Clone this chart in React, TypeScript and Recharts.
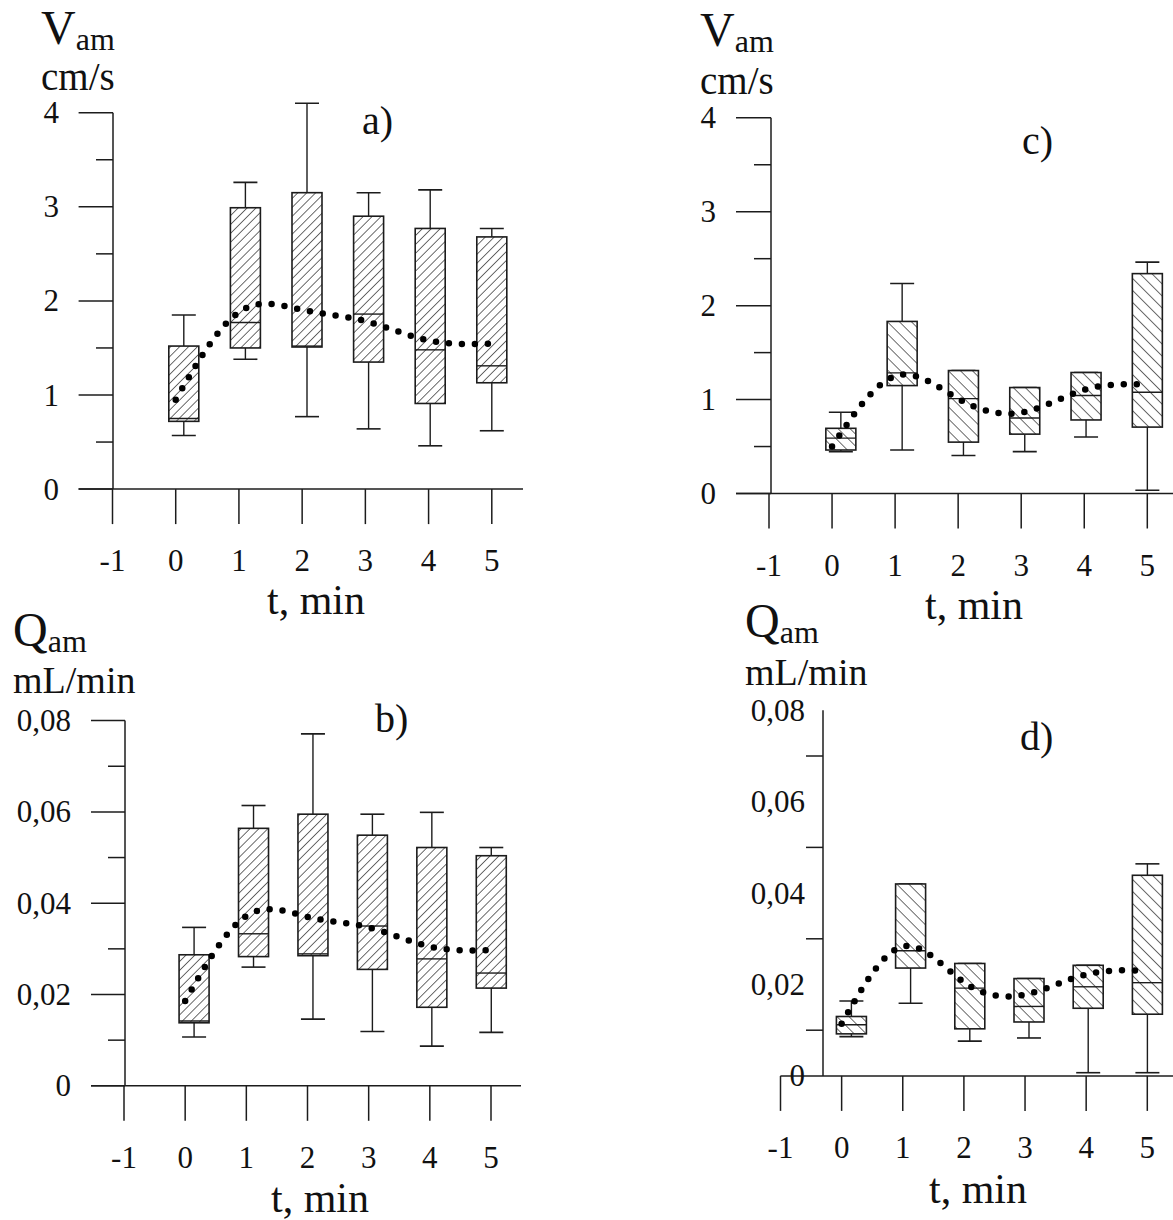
import React from 'react';
import { ComposedChart, Bar, Line, XAxis, YAxis, ReferenceLine } from 'recharts';

// ---------- shared axis data ----------
const times = [0, 1, 2, 3, 4, 5];
const timeTicks = [-1, 0, 1, 2, 3, 4, 5];
const timeTickLabels = ['-1', '0', '1', '2', '3', '4', '5'];

const vMajorTicks = [0, 1, 2, 3, 4];
const vMinorTicks = [0.5, 1.5, 2.5, 3.5];
const vTickLabels = ['0', '1', '2', '3', '4'];

const qMajorTicks = [0, 0.02, 0.04, 0.06, 0.08];
const qMinorTicks = [0.01, 0.03, 0.05, 0.07];
const qTickLabels = ['0', '0,02', '0,04', '0,06', '0,08'];

// ---------- panel a) V_am ----------
const aMin = [0.57, 1.38, 0.77, 0.64, 0.46, 0.62];
const aQ1 = [0.72, 1.5, 1.51, 1.35, 0.91, 1.13];
const aMed = [0.75, 1.77, 1.52, 1.86, 1.48, 1.31];
const aQ3 = [1.52, 2.99, 3.15, 2.9, 2.77, 2.68];
const aMax = [1.85, 3.26, 4.1, 3.15, 3.18, 2.77];
const aMean = [0.95, 1.88, 1.905, 1.785, 1.58, 1.545];

// ---------- panel b) Q_am ----------
const bMin = [0.0107, 0.026, 0.0146, 0.0119, 0.0087, 0.0117];
const bQ1 = [0.0138, 0.0283, 0.0285, 0.0255, 0.0172, 0.0214];
const bMed = [0.0142, 0.0333, 0.0289, 0.035, 0.0278, 0.0247];
const bQ3 = [0.0287, 0.0564, 0.0595, 0.0549, 0.0522, 0.0504];
const bMax = [0.0347, 0.0614, 0.0771, 0.0595, 0.0599, 0.0522];
const bMean = [0.0186, 0.0372, 0.037, 0.0347, 0.0305, 0.0297];

// ---------- panel c) V_am ----------
const cMin = [0.445, 0.463, 0.404, 0.446, 0.602, 0.034];
const cQ1 = [0.463, 1.149, 0.547, 0.632, 0.783, 0.707];
const cMed = [0.59, 1.284, 1.01, 0.804, 1.044, 1.078];
const cQ3 = [0.694, 1.832, 1.309, 1.128, 1.288, 2.341];
const cMax = [0.865, 2.236, 1.309, 1.128, 1.288, 2.463];
const cMean = [0.5, 1.25, 1.01, 0.86, 1.105, 1.16];

// ---------- panel d) Q_am ----------
const dMin = [0.0086, 0.0159, 0.0076, 0.0083, 0.0007, 0.0007];
const dQ1 = [0.0092, 0.0236, 0.0103, 0.0118, 0.0148, 0.0135];
const dMed = [0.0112, 0.0274, 0.0192, 0.0152, 0.0195, 0.0204];
const dQ3 = [0.013, 0.042, 0.0246, 0.0213, 0.0242, 0.0439];
const dMax = [0.0164, 0.042, 0.0246, 0.0213, 0.0242, 0.0464];
const dMean = [0.0114, 0.0283, 0.0205, 0.0178, 0.0222, 0.023];

const W = 1173;
const H = 1220;
const FONT = '"Liberation Serif", "Times New Roman", Times, serif';
const INK = '#1c1c1c';

function rows(mn: number[], q1: number[], med: number[], q3: number[], mx: number[], mean: number[]) {
  return times.map((t, i) => ({ t, min: mn[i], q1: q1[i], med: med[i], q3: q3[i], max: mx[i], mean: mean[i] }));
}

const dataA = rows(aMin, aQ1, aMed, aQ3, aMax, aMean);
const dataB = rows(bMin, bQ1, bMed, bQ3, bMax, bMean);
const dataC = rows(cMin, cQ1, cMed, cQ3, cMax, cMean);
const dataD = rows(dMin, dQ1, dMed, dQ3, dMax, dMean);

function BoxShape(props: any) {
  const { x, y, width, height, payload, hatch } = props;
  if (x == null || y == null || !payload) return null;
  const top = Math.min(y, y + height);
  const bottom = Math.max(y, y + height);
  const span = payload.max - payload.min;
  const px = (v: number) => bottom - ((bottom - top) * (v - payload.min)) / span;
  const cx = x + width / 2;
  const capW = 24;
  const yMax = px(payload.max);
  const yMin = px(payload.min);
  const yQ3 = px(payload.q3);
  const yQ1 = px(payload.q1);
  const yMed = px(payload.med);
  return (
    <g>
      <line x1={cx} x2={cx} y1={yMax} y2={yQ3} stroke={INK} strokeWidth={1.4} />
      <line x1={cx} x2={cx} y1={yQ1} y2={yMin} stroke={INK} strokeWidth={1.4} />
      <line x1={cx - capW / 2} x2={cx + capW / 2} y1={yMax} y2={yMax} stroke={INK} strokeWidth={1.6} />
      <line x1={cx - capW / 2} x2={cx + capW / 2} y1={yMin} y2={yMin} stroke={INK} strokeWidth={1.6} />
      <rect x={x} y={yQ3} width={width} height={Math.max(0, yQ1 - yQ3)} fill="#fff" stroke="none" />
      <rect x={x} y={yQ3} width={width} height={Math.max(0, yQ1 - yQ3)} fill={`url(#${hatch})`} stroke={INK} strokeWidth={1.6} />
      <line x1={x} x2={x + width} y1={yMed} y2={yMed} stroke={INK} strokeWidth={1.4} />
    </g>
  );
}

type Cfg = {
  plotLeft: number;
  plotRight: number;
  topTickPx: number;
  plotBottom: number;
  tickM1: number;
  tick5: number;
  box0: number;
  box5: number;
  yAxisPx: number;
  labelRight: number;
  showMajor: boolean;
  hatch: string;
};

function Panel({ cfg, data, yMax, majors, minors, labels }: { cfg: Cfg; data: any[]; yMax: number; majors: number[]; minors: number[]; labels: string[] }) {
  const YW = 60;
  const XH = 40;
  // leave some headroom above the top tick so long whiskers are not cut
  const yTop = yMax * 1.06;
  const pxPerUnit = (cfg.plotBottom - cfg.topTickPx) / yMax;
  const plotTop = cfg.plotBottom - yTop * pxPerUnit;
  const k = (cfg.tick5 - cfg.tickM1) / 6;
  const dom: [number, number] = [-1 + (cfg.plotLeft - cfg.tickM1) / k, -1 + (cfg.plotRight - cfg.tickM1) / k];
  const kb = (cfg.box5 - cfg.box0) / 5;
  const bdom: [number, number] = [(cfg.plotLeft - cfg.box0) / kb, (cfg.plotRight - cfg.box0) / kb];
  const yAxisAt = -1 + (cfg.yAxisPx - cfg.tickM1) / k;
  const allTicks = [...majors, ...minors].sort((p, q) => p - q);

  const xTick = (p: any) => {
    const v = p.payload.value;
    const idx = timeTicks.indexOf(v);
    return (
      <g>
        <line x1={p.x} x2={p.x} y1={cfg.plotBottom} y2={cfg.plotBottom + 35} stroke={INK} strokeWidth={1.5} />
        <text x={p.x} y={cfg.plotBottom + 82} textAnchor="middle" fontFamily={FONT} fontSize={31} fill="#111">
          {idx >= 0 ? timeTickLabels[idx] : ''}
        </text>
      </g>
    );
  };

  const yTick = (p: any) => {
    const v = p.payload.value;
    const idx = majors.findIndex((m) => Math.abs(m - v) < 1e-9);
    const isMajor = idx >= 0;
    const len = isMajor ? cfg.yAxisPx - cfg.plotLeft : 17;
    return (
      <g>
        {(!isMajor || cfg.showMajor) && (
          <line x1={cfg.yAxisPx - len} x2={cfg.yAxisPx} y1={p.y} y2={p.y} stroke={INK} strokeWidth={1.5} />
        )}
        {isMajor && (
          <text x={cfg.labelRight} y={p.y} dy="0.34em" textAnchor="end" fontFamily={FONT} fontSize={31} fill="#111">
            {labels[idx]}
          </text>
        )}
      </g>
    );
  };

  return (
    <div style={{ position: 'absolute', left: 0, top: 0, width: W, height: H }}>
      <ComposedChart
        width={W}
        height={H}
        data={data}
        margin={{ top: plotTop, left: cfg.plotLeft - YW, right: W - cfg.plotRight, bottom: H - cfg.plotBottom - XH }}
      >
        <XAxis
          xAxisId="t"
          dataKey="t"
          type="number"
          domain={dom}
          ticks={timeTicks}
          interval={0}
          allowDataOverflow
          height={XH}
          tickLine={false}
          axisLine={{ stroke: INK, strokeWidth: 1.5 }}
          tick={xTick}
        />
        <XAxis xAxisId="box" dataKey="t" type="number" domain={bdom} allowDataOverflow hide height={0} />
        <YAxis
          type="number"
          domain={[0, yTop]}
          ticks={allTicks}
          interval={0}
          width={YW}
          axisLine={false}
          tickLine={false}
          tickSize={0}
          tickMargin={0}
          tick={yTick}
          allowDataOverflow
        />
        <ReferenceLine
          xAxisId="t"
          segment={[
            { x: yAxisAt, y: 0 },
            { x: yAxisAt, y: yMax },
          ]}
          stroke={INK}
          strokeWidth={1.5}
          ifOverflow="visible"
        />
        <Bar
          xAxisId="box"
          dataKey={(d: any) => [d.min, d.max]}
          barSize={30}
          isAnimationActive={false}
          shape={(p: any) => <BoxShape {...p} hatch={cfg.hatch} />}
        />
        <Line
          xAxisId="t"
          dataKey="mean"
          type="natural"
          stroke="#000"
          strokeWidth={6.5}
          strokeDasharray="0 13"
          strokeLinecap="round"
          dot={false}
          activeDot={false}
          isAnimationActive={false}
        />
      </ComposedChart>
    </div>
  );
}

const cfgA: Cfg = { plotLeft: 78.6, plotRight: 523, topTickPx: 112.7, plotBottom: 489.1, tickM1: 112.5, tick5: 491.8, box0: 183.6, box5: 491.6, yAxisPx: 113, labelRight: 59, showMajor: true, hatch: 'hatchUp' };
const cfgB: Cfg = { plotLeft: 91, plotRight: 521, topTickPx: 720.6, plotBottom: 1085.8, tickM1: 124, tick5: 491, box0: 193.8, box5: 491, yAxisPx: 125, labelRight: 71, showMajor: true, hatch: 'hatchUp' };
const cfgC: Cfg = { plotLeft: 736, plotRight: 1173, topTickPx: 117.8, plotBottom: 493.5, tickM1: 769, tick5: 1147.3, box0: 840.5, box5: 1147, yAxisPx: 771, labelRight: 716, showMajor: true, hatch: 'hatchDown' };
const cfgD: Cfg = { plotLeft: 780.5, plotRight: 1173, topTickPx: 710.3, plotBottom: 1075.9, tickM1: 780.5, tick5: 1147.3, box0: 851, box5: 1147, yAxisPx: 823, labelRight: 805, showMajor: false, hatch: 'hatchDown' };

function Header({ x, y, big, sub, unit, unitY, unitSize }: { x: number; y: number; big: string; sub: string; unit: string; unitY: number; unitSize: number }) {
  return (
    <g fontFamily={FONT} fill="#111">
      <text x={x} y={y} fontSize={48}>
        {big}
        <tspan fontSize={32} dy={6}>{sub}</tspan>
      </text>
      <text x={x} y={unitY} fontSize={unitSize}>{unit}</text>
    </g>
  );
}

export default function App() {
  return (
    <div style={{ position: 'absolute', left: 0, top: 0, width: W, height: H, overflow: 'hidden', background: '#fff' }}>
      <svg width={0} height={0} style={{ position: 'absolute' }}>
        <defs>
          <pattern id="hatchUp" width={6.3} height={6.3} patternUnits="userSpaceOnUse" patternTransform="rotate(45)">
            <line x1={0} y1={0} x2={0} y2={6.3} stroke={INK} strokeWidth={1.3} />
          </pattern>
          <pattern id="hatchDown" width={8.5} height={8.5} patternUnits="userSpaceOnUse" patternTransform="rotate(-45)">
            <line x1={0} y1={0} x2={0} y2={8.5} stroke={INK} strokeWidth={1.3} />
          </pattern>
        </defs>
      </svg>
      <Panel cfg={cfgA} data={dataA} yMax={4} majors={vMajorTicks} minors={vMinorTicks} labels={vTickLabels} />
      <Panel cfg={cfgB} data={dataB} yMax={0.08} majors={qMajorTicks} minors={qMinorTicks} labels={qTickLabels} />
      <Panel cfg={cfgC} data={dataC} yMax={4} majors={vMajorTicks} minors={vMinorTicks} labels={vTickLabels} />
      <Panel cfg={cfgD} data={dataD} yMax={0.08} majors={qMajorTicks} minors={qMinorTicks} labels={qTickLabels} />
      <svg width={W} height={H} style={{ position: 'absolute', left: 0, top: 0, pointerEvents: 'none' }}>
        <Header x={41} y={44} big="V" sub="am" unit="cm/s" unitY={90} unitSize={39} />
        <Header x={13} y={646} big="Q" sub="am" unit="mL/min" unitY={693} unitSize={38} />
        <Header x={700} y={46} big="V" sub="am" unit="cm/s" unitY={94} unitSize={39} />
        <Header x={745} y={637} big="Q" sub="am" unit="mL/min" unitY={685} unitSize={38} />
        <g fontFamily={FONT} fill="#111" fontSize={40}>
          <text x={362} y={134}>a)</text>
          <text x={375} y={732}>b)</text>
          <text x={1022} y={154}>c)</text>
          <text x={1020} y={750}>d)</text>
        </g>
        <g fontFamily={FONT} fill="#111" fontSize={42} textAnchor="middle">
          <text x={316} y={614}>t, min</text>
          <text x={320} y={1212}>t, min</text>
          <text x={974} y={619}>t, min</text>
          <text x={978} y={1203}>t, min</text>
        </g>
      </svg>
    </div>
  );
}
